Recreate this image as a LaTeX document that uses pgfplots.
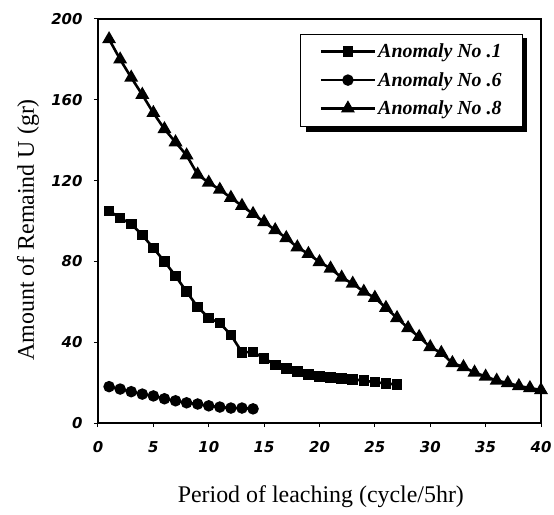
\documentclass[border=0pt]{standalone}
\usepackage{pgfplots}
\pgfplotsset{compat=1.18}
\usepackage{fontspec}
\setmainfont{Liberation Serif}
\setsansfont{DejaVu Sans}

\pgfplotstableread{
x y
1 105
2 101.5
3 98.5
4 93
5 86.6
6 80
7 72.8
8 65
9 57.4
10 52
11 49.5
12 43.6
13 35
14 35.2
15 32
16 28.8
17 27
18 25.5
19 24
20 23
21 22.6
22 22
23 21.6
24 21
25 20.2
26 19.6
27 19
}\anomalyone

\pgfplotstableread{
x y
1 18
2 16.8
3 15.5
4 14.3
5 13.4
6 12
7 11
8 10
9 9.4
10 8.5
11 7.9
12 7.4
13 7.4
14 7
}\anomalysix

\pgfplotstableread{
x y
1 190
2 180
3 171
4 162.5
5 153.5
6 145.5
7 139
8 132.5
9 123
10 119
11 115.5
12 111.5
13 107.5
14 103.5
15 99.5
16 95.5
17 91.6
18 87
19 83.7
20 79.7
21 76.5
22 72
23 69
24 65
25 62
26 57
27 52
28 47
29 42.6
30 37.6
31 34.7
32 29.7
33 27.7
34 25
35 23
36 21
37 19.8
38 18.3
39 17.3
40 16.3
}\anomalyeight

\begin{document}
\begin{tikzpicture}
\path[use as bounding box] (-98bp,-92bp) rectangle (456bp,423bp);
\begin{axis}[
    scale only axis,
    width=443bp, height=404bp,
    xmin=0, xmax=40, ymin=0, ymax=200,
    xtick={0,5,...,40},
    ytick={0,40,...,200},
    xtick pos=left, ytick pos=left,
    tick align=outside,
    major tick length=4bp,
    axis line style={line width=1.4bp},
    major tick style={line width=1bp, black},
    /pgf/number format/assume math mode=true,
    tick label style={font=\sffamily\bfseries\itshape\fontsize{15}{15}\selectfont},
    xticklabel style={yshift=-11bp},
    yticklabel style={xshift=-8bp},
    xlabel={Period of leaching (cycle/5hr)},
    ylabel={Amount of Remaind U (gr)},
    label style={font=\fontsize{24}{24}\selectfont},
    xlabel style={at={(axis description cs:0.503,-0.183)}, anchor=center},
    ylabel style={at={(axis description cs:-0.158,0.478)}, anchor=center, rotate=0},
    legend style={at={(axis description cs:0.959,0.963)}, anchor=north east,
        draw=black, fill=white,
        font=\bfseries\itshape\fontsize{20}{20}\selectfont,
        row sep=9bp, inner xsep=19bp, inner ysep=8bp},
    legend cell align=left,
    legend image code/.code={
        \draw[#1, mark repeat=2, mark phase=2] plot coordinates {(0bp,0bp) (27bp,0bp) (54bp,0bp)};
    },
    every axis plot post/.append style={line width=2.6bp},
]
% shadow of the legend box
\fill[black] (rel axis cs:0.4695,0.7203) rectangle (rel axis cs:0.9684,0.953);
\addplot[black, mark=square*, mark size=4bp] table {\anomalyone};
\addplot[black, mark=*, mark size=4.4bp] table {\anomalysix};
\addplot[black, mark=triangle*, mark size=5.5bp] table {\anomalyeight};
\legend{Anomaly No .1, Anomaly No .6, Anomaly No .8}
\end{axis}
\end{tikzpicture}
\end{document}
